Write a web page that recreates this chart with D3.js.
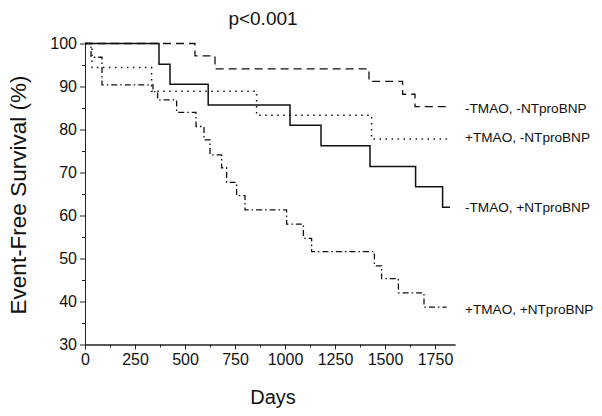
<!DOCTYPE html>
<html><head><meta charset="utf-8">
<script src="https://cdn.jsdelivr.net/npm/d3@7"></script>
<style>
html,body{margin:0;padding:0;background:#fff;}
svg{display:block;font-family:"Liberation Sans",Arial,sans-serif;}
</style></head>
<body><svg id="chart" width="602" height="416"></svg>
<script>
// Data (days, event-free survival %)
const seriesNames = ["-TMAO, -NTproBNP", "+TMAO, -NTproBNP", "-TMAO, +NTproBNP", "+TMAO, +NTproBNP"];
const daysA = [0, 550, 650, 1420, 1588, 1650, 1805];
const survA = [100, 97.1, 94.1, 91.2, 88.2, 85.3, 85.3];
const daysB = [0, 35, 333, 858, 1433, 1825];
const survB = [100, 94.4, 88.9, 83.3, 77.8, 77.8];
const daysC = [0, 370, 425, 616, 1025, 1180, 1425, 1653, 1788, 1825];
const survC = [100, 95.2, 90.5, 85.7, 81.0, 76.2, 71.4, 66.7, 61.9, 61.9];
const daysD = [0, 30, 85, 340, 363, 458, 555, 595, 625, 683, 708, 758, 800, 1008, 1092, 1133, 1447, 1483, 1567, 1695, 1808];
const survD = [100, 96.8, 90.4, 88.8, 86.9, 84.0, 80.7, 77.6, 74.1, 71.1, 67.7, 64.6, 61.3, 58.0, 54.7, 51.6, 48.3, 45.3, 42.0, 38.7, 38.7];
const xTicks = [0, 250, 500, 750, 1000, 1250, 1500, 1750];
const yTicks = [30, 40, 50, 60, 70, 80, 90, 100];
const title = "p<0.001";
const xTitle = "Days";
const yTitle = "Event-Free Survival (%)";

const svg = d3.select("#chart");
const x = d3.scaleLinear().domain([0, 1850]).range([85, 455]);
const y = d3.scaleLinear().domain([30, 100]).range([344.5, 43.5]);

// axes
const fmt = d3.format("d");
const xAxis = d3.axisBottom(x).tickValues(xTicks).tickFormat(fmt).tickSize(5).tickPadding(4).tickSizeOuter(0);
const xMinor = d3.axisBottom(x).tickValues(d3.range(125, 1850, 250)).tickSize(3).tickFormat("").tickSizeOuter(0);
const yAxis = d3.axisLeft(y).tickValues(yTicks).tickFormat(fmt).tickSize(5).tickPadding(3).tickSizeOuter(0);
const yMinor = d3.axisLeft(y).tickValues(d3.range(35, 100, 10)).tickSize(3).tickFormat("").tickSizeOuter(0);

function styleAxis(g){
  g.selectAll("path,line").attr("stroke","#222").attr("stroke-width",1);
  g.selectAll("text").attr("fill","#111").style("font-size","16px").style("font-family","'Liberation Sans',Arial,sans-serif");
}
svg.append("g").attr("transform","translate(0,344.5)").call(xAxis).call(styleAxis);
svg.append("g").attr("transform","translate(0,344.5)").call(xMinor).call(styleAxis);
svg.append("g").attr("transform","translate(85,0)").call(yAxis).call(styleAxis);
svg.append("g").attr("transform","translate(85,0)").call(yMinor).call(styleAxis);

// curves
const line = d3.line().x(d => x(d[0])).y(d => y(d[1])).curve(d3.curveStepAfter);
const series = [
  {days: daysA, surv: survA, dash: "8,5", w: 1.3, label: seriesNames[0], ly: 108},
  {days: daysB, surv: survB, dash: "1.5,4.5", w: 1.5, label: seriesNames[1], ly: 137},
  {days: daysC, surv: survC, dash: null, w: 1.5, label: seriesNames[2], ly: 207},
  {days: daysD, surv: survD, dash: "6,3,1.5,3", w: 1.3, label: seriesNames[3], ly: 309}
];
series.forEach(s => {
  const pts = s.days.map((d, i) => [d, s.surv[i]]);
  svg.append("path").datum(pts).attr("d", line)
    .attr("fill","none").attr("stroke","#111").attr("stroke-width", s.w)
    .attr("stroke-dasharray", s.dash);
  svg.append("text").attr("x", 465).attr("y", s.ly).attr("dy","0.35em")
    .style("font-size","13.6px").attr("fill","#111").text(s.label);
});

// titles
svg.append("text").attr("x", 263).attr("y", 25).attr("text-anchor","middle")
  .style("font-size","19px").attr("fill","#111").text(title);
svg.append("text").attr("x", 273).attr("y", 404).attr("text-anchor","middle")
  .style("font-size","20px").attr("fill","#111").text(xTitle);
svg.append("text").attr("transform","translate(26,195) rotate(-90)").attr("text-anchor","middle")
  .style("font-size","22.5px").attr("fill","#111").text(yTitle);
</script>
</body></html>
